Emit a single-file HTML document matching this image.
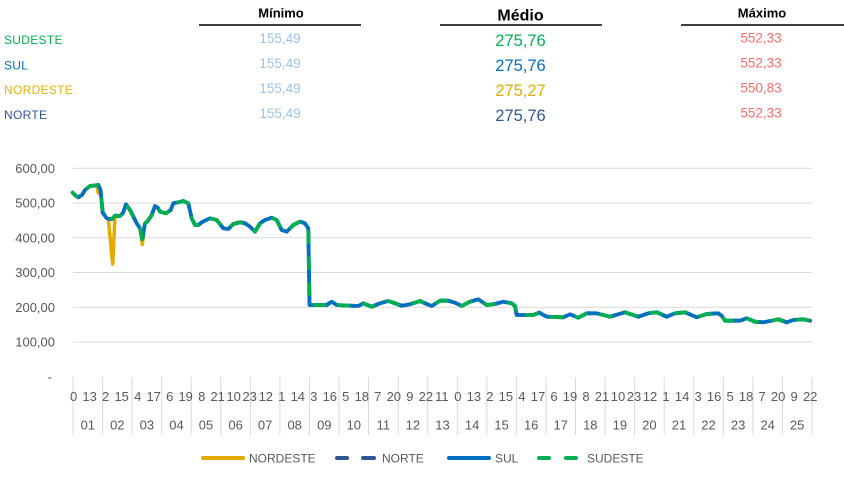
<!DOCTYPE html>
<html><head><meta charset="utf-8"><style>
html,body{margin:0;padding:0;background:#fff;}
svg{display:block;font-family:"Liberation Sans",sans-serif;}
</style></head><body>
<svg width="844" height="479" viewBox="0 0 844 479" xmlns="http://www.w3.org/2000/svg">
<!-- header -->
<g font-weight="bold" fill="#000" text-anchor="middle">
<text x="281" y="17.5" font-size="13">Mínimo</text>
<text x="520.5" y="20.7" font-size="16">Médio</text>
<text x="762" y="17.5" font-size="13">Máximo</text>
</g>
<g stroke="#000" stroke-width="1.5">
<line x1="199" y1="25" x2="361" y2="25"/>
<line x1="440" y1="25" x2="602" y2="25"/>
<line x1="681" y1="25" x2="844" y2="25"/>
</g>
<g font-size="12" letter-spacing="0.3">
<text x="4" y="44" fill="#00B050">SUDESTE</text>
<text x="4" y="69.5" fill="#0070C0">SUL</text>
<text x="4" y="94" fill="#EDB100">NORDESTE</text>
<text x="4" y="119" fill="#2F5597">NORTE</text>
</g>
<g font-size="13.5" fill="#9DC3E6" text-anchor="middle">
<text x="280" y="43">155,49</text>
<text x="280" y="68">155,49</text>
<text x="280" y="93">155,49</text>
<text x="280" y="118">155,49</text>
</g>
<g font-size="16.5" text-anchor="middle">
<text x="520.5" y="46" fill="#00B050">275,76</text>
<text x="520.5" y="71" fill="#0070C0">275,76</text>
<text x="520.5" y="96" fill="#E6AC00">275,27</text>
<text x="520.5" y="121" fill="#2F5597">275,76</text>
</g>
<g font-size="13.5" fill="#FF6B6B" text-anchor="middle">
<text x="761" y="42.7">552,33</text>
<text x="761" y="67.7">552,33</text>
<text x="761" y="92.3">550,83</text>
<text x="761" y="117.7">552,33</text>
</g>

<!-- gridlines -->
<g stroke="#D9D9D9" stroke-width="1">
<line x1="73" y1="168.3" x2="812" y2="168.3"/>
<line x1="73" y1="203.1" x2="812" y2="203.1"/>
<line x1="73" y1="237.8" x2="812" y2="237.8"/>
<line x1="73" y1="272.5" x2="812" y2="272.5"/>
<line x1="73" y1="307.3" x2="812" y2="307.3"/>
<line x1="73" y1="342" x2="812" y2="342"/>
</g>
<g font-size="13" fill="#595959" text-anchor="end">
<text x="55" y="172.8">600,00</text>
<text x="55" y="207.6">500,00</text>
<text x="55" y="242.3">400,00</text>
<text x="55" y="277">300,00</text>
<text x="55" y="311.8">200,00</text>
<text x="55" y="346.5">100,00</text>
<text x="52" y="381.5">-</text>
</g>

<!-- day separators -->
<g stroke="#D9D9D9" stroke-width="1" id="seps"></g>

<!-- series -->
<polyline fill="none" stroke="#E5AA00" stroke-width="3.5" stroke-linejoin="round" stroke-linecap="round" points="72.7,192.7 76,196 78.3,197.3 82,195 85,190 90,186 95,185.5 97,186 98.3,193 99.5,187 100.5,190 101.7,201.7 102.7,212.7 106.7,218.3 108.3,219 112.7,264 115,216 120,216 123,213 126,204.3 130,210 136.7,223.3 140,228.3 142.3,244.5 145,223.3 147.3,221.7 151.7,215 155,206 158,208 160,211.7 166,213.3 170.7,210 173.3,203.3 178.3,202.3 183.3,201 188.3,203.3 191.7,218.3 195,225 198.3,225 202.7,221.7 210,218.3 216.7,220 223.3,228.3 228.3,229 233.3,224 240,222.3 245,223.3 250,226.7 255,231.7 260,223.3 265,220 271.7,217.7 276.7,220 281.7,230 286.7,231.7 293.3,225 300,221.7 305,223.3 308.3,228.3 309.5,305 326.7,305 331.7,301.7 336.7,305 345,305.5 358.3,306 363.3,303.3 371.7,306.7 380,303.3 388.3,301 393.3,302.7 401.7,305.7 410,304.3 420,301 426.7,304 431.7,306 440,300.7 448.3,300.7 455,302.7 461.7,306 470,301.7 478.3,299.3 486.7,305 495,304 503.3,301.7 511.7,303.3 515,306 516.7,315 533.3,315 539.3,312.7 546.7,316.7 563.3,317.3 570,314.3 578.3,317.7 586.7,313.3 596.7,313.3 610,316.7 625,312.3 638.3,316.7 648.3,313.3 656.7,312.3 666.7,316.7 675,313.3 685,312.3 696.7,317.3 706.7,314 718.3,313.3 722,316 725,320.7 740,320.7 746.7,318.3 755,321.7 763.3,322.3 771.7,320.7 778.3,319.3 786.7,322.3 793.3,320 803.3,319.3 810,320.7"/>
<polyline id="p1" fill="none" stroke-width="3.8" stroke-linejoin="round" stroke="#2F5597" stroke-dasharray="10,16" stroke-linecap="round" points="72.7,192.7 76,196 78.3,197.3 82,195 85,190 90,186 95,185.5 98.3,185 100.5,190 101.7,201.7 102.7,212.7 106.7,218.3 111.7,219.3 115,215.7 120,216 123,213 126,204.3 130,210 136.7,223.3 140,228.3 142.3,239 145,223.3 147.3,221.7 151.7,215 155,206 158,208 160,211.7 166,213.3 170.7,210 173.3,203.3 178.3,202.3 183.3,201 188.3,203.3 191.7,218.3 195,225 198.3,225 202.7,221.7 210,218.3 216.7,220 223.3,228.3 228.3,229 233.3,224 240,222.3 245,223.3 250,226.7 255,231.7 260,223.3 265,220 271.7,217.7 276.7,220 281.7,230 286.7,231.7 293.3,225 300,221.7 305,223.3 308.3,228.3 309.5,305 326.7,305 331.7,301.7 336.7,305 345,305.5 358.3,306 363.3,303.3 371.7,306.7 380,303.3 388.3,301 393.3,302.7 401.7,305.7 410,304.3 420,301 426.7,304 431.7,306 440,300.7 448.3,300.7 455,302.7 461.7,306 470,301.7 478.3,299.3 486.7,305 495,304 503.3,301.7 511.7,303.3 515,306 516.7,315 533.3,315 539.3,312.7 546.7,316.7 563.3,317.3 570,314.3 578.3,317.7 586.7,313.3 596.7,313.3 610,316.7 625,312.3 638.3,316.7 648.3,313.3 656.7,312.3 666.7,316.7 675,313.3 685,312.3 696.7,317.3 706.7,314 718.3,313.3 722,316 725,320.7 740,320.7 746.7,318.3 755,321.7 763.3,322.3 771.7,320.7 778.3,319.3 786.7,322.3 793.3,320 803.3,319.3 810,320.7"/>
<polyline id="p2" fill="none" stroke-width="3.8" stroke-linejoin="round" stroke-linecap="round" stroke="#0070C0" points=""/>
<polyline id="p3" fill="none" stroke-width="3.8" stroke-linejoin="round" stroke-linecap="round" stroke="#00B050" stroke-dasharray="10,16" stroke-dashoffset="5" points=""/>

<!-- x axis labels -->
<g id="ticks" font-size="13" fill="#595959" text-anchor="middle"></g>
<g id="days" font-size="13" fill="#595959" text-anchor="middle"></g>

<!-- legend -->
<line x1="203" y1="458" x2="243" y2="458" stroke="#E5AA00" stroke-width="4" stroke-linecap="round"/>
<text x="249" y="462.5" font-size="12" fill="#595959">NORDESTE</text>
<line x1="337" y1="458" x2="347" y2="458" stroke="#2F5597" stroke-width="4" stroke-linecap="round"/>
<line x1="363" y1="458" x2="374" y2="458" stroke="#2F5597" stroke-width="4" stroke-linecap="round"/>
<text x="382" y="462.5" font-size="12" fill="#595959">NORTE</text>
<line x1="449" y1="458" x2="489" y2="458" stroke="#0070C0" stroke-width="4" stroke-linecap="round"/>
<text x="495" y="462.5" font-size="12" fill="#595959">SUL</text>
<line x1="539" y1="458" x2="549" y2="458" stroke="#00B050" stroke-width="4" stroke-linecap="round"/>
<line x1="566" y1="458" x2="576" y2="458" stroke="#00B050" stroke-width="4" stroke-linecap="round"/>
<text x="587" y="462.5" font-size="12" fill="#595959">SUDESTE</text>

<script>
(function(){
var ns="http://www.w3.org/2000/svg";
var pts=document.getElementById('p1').getAttribute('points');
document.getElementById('p2').setAttribute('points',pts);
document.getElementById('p3').setAttribute('points',pts);
var x0=73,x1=812,w=(x1-x0)/600,dw=(x1-x0)/25;
var seps=document.getElementById('seps');
for(var d=0;d<=25;d++){
 var l=document.createElementNS(ns,'line');
 var x=(x0+d*dw).toFixed(1);
 l.setAttribute('x1',x);l.setAttribute('x2',x);
 l.setAttribute('y1','377');l.setAttribute('y2','435');
 seps.appendChild(l);
}
var t=document.getElementById('ticks');
for(var k=0;k<47;k++){
 var i=13*k;
 var e=document.createElementNS(ns,'text');
 e.setAttribute('x',(x0+(i+0.5)*w).toFixed(1));
 e.setAttribute('y','401');
 e.textContent=String(i%24);
 t.appendChild(e);
}
var dd=document.getElementById('days');
for(var d=0;d<25;d++){
 var e=document.createElementNS(ns,'text');
 e.setAttribute('x',(x0+(d+0.5)*dw).toFixed(1));
 e.setAttribute('y','429.5');
 e.textContent=(d+1<10?'0':'')+(d+1);
 dd.appendChild(e);
}
})();
</script>
</svg>
</body></html>
